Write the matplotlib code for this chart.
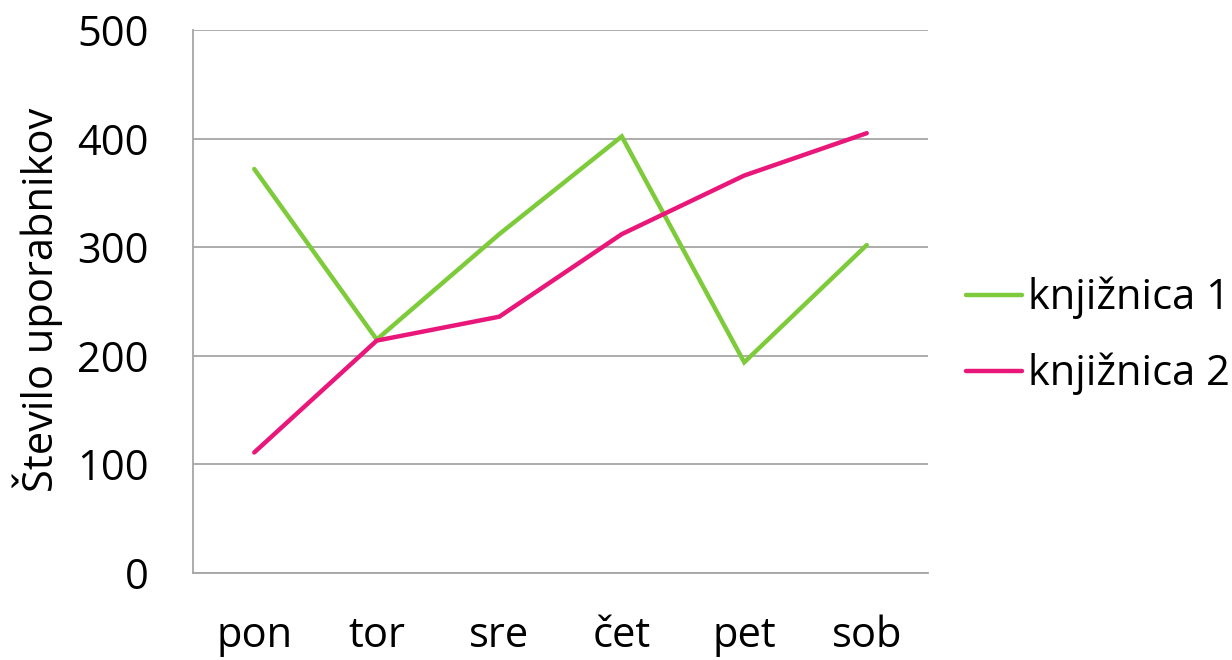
import matplotlib
matplotlib.use("Agg")
import matplotlib.pyplot as plt

days = ["pon", "tor", "sre", "čet", "pet", "sob"]
knjiznica1 = [372, 215, 312, 402, 194, 302]
knjiznica2 = [111, 214, 236, 312, 366, 405]
yticks = [0, 100, 200, 300, 400, 500]

plt.rcParams['font.family'] = ['Open Sans', 'DejaVu Sans']

fig = plt.figure(figsize=(12.32, 6.6), dpi=100)
ax = fig.add_axes([193/1232, 87/660, (928-193)/1232, (573-30)/660])

green = "#7DCB3A"
pink = "#E9177A"
x = list(range(len(days)))
ax.plot(x, knjiznica1, color=green, lw=3.2, label="knjižnica 1", solid_capstyle="round", solid_joinstyle="miter")
ax.plot(x, knjiznica2, color=pink, lw=3.2, label="knjižnica 2", solid_capstyle="round", solid_joinstyle="miter")

ax.set_xlim(-0.5, len(days) - 0.5)
ax.set_ylim(0, 500)
ax.set_yticks(yticks)
ax.set_xticks(x)
ax.set_xticklabels(days)
ax.yaxis.grid(True, color="#A6A6A6", lw=1.3)
ax.set_axisbelow(True)
for s in ["top", "right"]:
    ax.spines[s].set_visible(False)
for s in ["left", "bottom"]:
    ax.spines[s].set_color("#A6A6A6")
    ax.spines[s].set_linewidth(1.3)
ax.tick_params(axis="both", length=0, labelsize=30, colors="black")
ax.tick_params(axis="y", pad=32)
ax.tick_params(axis="x", pad=30)
ax.set_ylabel("Število uporabnikov", fontsize=30)
ax.yaxis.set_label_coords(63/1232, 360/660, transform=fig.transFigure)

ax.legend(loc="center left", bbox_to_anchor=(966/1232, 324/660), bbox_transform=fig.transFigure,
          frameon=False, fontsize=30, handlelength=1.35, handletextpad=0.15, labelspacing=0.8,
          borderaxespad=0, borderpad=0)

fig.savefig("out.png", dpi=100)
